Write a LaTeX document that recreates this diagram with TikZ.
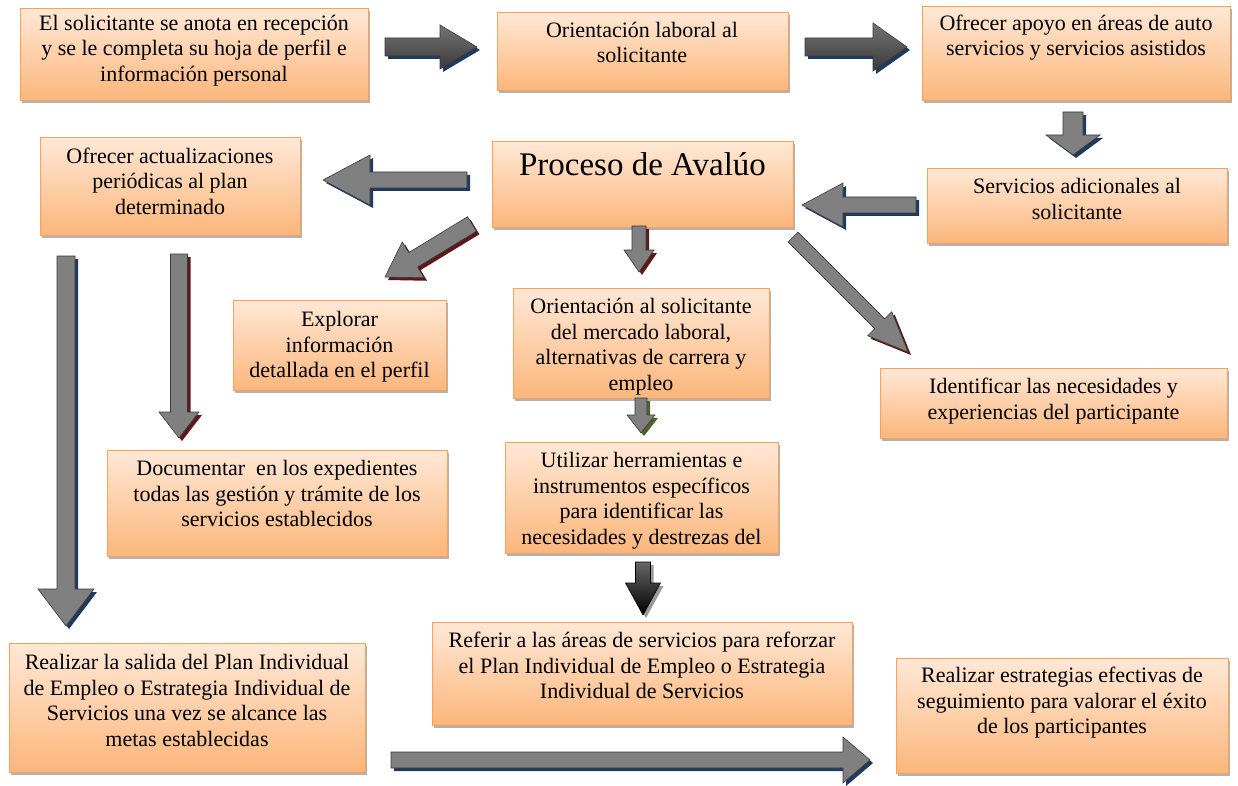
\documentclass[tikz,border=0pt]{standalone}
\usepackage{fontspec}
\setmainfont{Liberation Serif}
\usetikzlibrary{calc,shadows}

\definecolor{boxtop}{HTML}{FFE8D6}
\definecolor{boxbot}{HTML}{FBB67B}
\definecolor{boxline}{HTML}{F7A15A}
\definecolor{arrowfill}{HTML}{808080}
\definecolor{arrowline}{HTML}{3A3A3A}
\definecolor{shblue}{HTML}{1F3A60}
\definecolor{shred}{HTML}{5E1818}
\definecolor{shgreen}{HTML}{4E6128}

\tikzset{
  panel/.style={rectangle, draw=boxline, line width=0.8pt, top color=boxtop,
    bottom color=boxbot, inner sep=0pt,
    drop shadow={shadow xshift=2pt, shadow yshift=-3pt, fill=black, opacity=0.3}},
  paneltext/.style={inner sep=0pt, align=center, anchor=north,
    font=\fontsize{22}{25.8}\selectfont},
  bigtext/.style={inner sep=0pt, anchor=base, font=\fontsize{33}{36}\selectfont},
  flat/.style={fill=arrowfill, draw=arrowline, line width=0.6pt},
  shadedarrow/.style={top color=arrowfill!110!white, bottom color=arrowline,
    draw=arrowline, line width=0.6pt},
  darkarrow/.style={top color=black!60, bottom color=black, draw=black, line width=0.6pt},
  shadowfill/.style={fill=#1, draw=none}
}

% box: name, x1, y1, x2, y2 (pixel frame, y downwards)
\newcommand\panelbox[5]{%
  \node[panel, anchor=north west, minimum width={#4pt-#2pt},
    minimum height={#5pt-#3pt}] (#1) at (#2,#3) {};}
% text of a box: name, x centre, baseline of the first line, text
\newcommand\paneltxt[4]{%
  \node[paneltext] (#1) at (#2,{#3-16}) {\rule{0pt}{16pt}#4};}

% block arrow outline from tail #1 to tip #2 (head base at coordinate hb)
\newcommand\arrowoutline[4]{%
  ($(#1)!#3pt!90:(#2)$) -- ($(hb)!#3pt!-90:(#1)$) -- ($(hb)!#4pt!-90:(#1)$)
  -- (#2) -- ($(hb)!#4pt!90:(#1)$) -- ($(hb)!#3pt!90:(#1)$)
  -- ($(#1)!#3pt!-90:(#2)$) -- cycle}
% tail, tip, half shaft, half head, head length, arrow style, shadow colour
\newcommand\blockarrow[7]{%
  \coordinate (hb) at ($(#2)!#5pt!(#1)$);
  \path[shadowfill=#7, transform canvas={shift={(3pt,-3pt)}}] \arrowoutline{#1}{#2}{#3}{#4};
  \path[#6] \arrowoutline{#1}{#2}{#3}{#4};}

\begin{document}
\begin{tikzpicture}[x=1pt, y=-1pt]
\useasboundingbox (0,0) rectangle (1238,786);

% ---------- boxes ----------
\panelbox{reg}{20}{8}{368}{100}
\paneltxt{regT}{194}{30}{El solicitante se anota en recepción\\y se le completa su hoja de perfil e\\información personal}

\panelbox{ori}{497}{12}{788}{90}
\paneltxt{oriT}{642}{37}{Orientación laboral al\\solicitante}

\panelbox{apo}{922}{6}{1230}{100}
\paneltxt{apoT}{1076}{30}{Ofrecer apoyo en áreas de auto\\servicios y servicios asistidos}

\panelbox{act}{40}{137}{300}{235}
\paneltxt{actT}{170}{163}{Ofrecer actualizaciones\\periódicas al plan\\determinado}

\panelbox{pro}{492}{141}{793}{227}
\node[bigtext] (proT) at (642.5,176) {Proceso de Avalúo};

\panelbox{adi}{927}{168}{1227}{243}
\paneltxt{adiT}{1077}{193}{Servicios adicionales al\\solicitante}

\panelbox{exp}{233}{300}{446}{390}
\paneltxt{expT}{339.5}{326}{Explorar\\información\\detallada en el perfil}

\panelbox{mer}{513}{288}{769}{398}
\begin{scope}
  \clip (mer.south west) rectangle (mer.north east);
  \paneltxt{merT}{641}{313}{Orientación al solicitante\\del mercado laboral,\\alternativas de carrera y\\empleo}
\end{scope}

\panelbox{nec}{880}{368}{1227}{438}
\paneltxt{necT}{1053.5}{393}{Identificar las necesidades y\\experiencias del participante}

\panelbox{doc}{107}{450}{447}{556}
\paneltxt{docT}{277}{475}{Documentar~~en los expedientes\\todas las gestión y trámite de los\\servicios establecidos}

\panelbox{her}{505}{442}{778}{553}
\paneltxt{herT}{641.5}{467}{Utilizar herramientas e\\instrumentos específicos\\para identificar las\\necesidades y destrezas del}

\panelbox{ref}{432}{622}{852}{725}
\paneltxt{refT}{642}{647}{Referir a las áreas de servicios para reforzar\\el Plan Individual de Empleo o Estrategia\\Individual de Servicios}

\panelbox{sal}{9}{643}{365}{772}
\paneltxt{salT}{187}{669}{Realizar la salida del Plan Individual\\de Empleo o Estrategia Individual de\\Servicios una vez se alcance las\\metas establecidas}

\panelbox{seg}{896}{658}{1228}{773}
\paneltxt{segT}{1062}{682}{Realizar estrategias efectivas de\\seguimiento para valorar el éxito\\de los participantes}

% ---------- arrow end points ----------
\coordinate (a1s) at (385,47);   \coordinate (a1e) at (477,47);
\coordinate (a2s) at (805,47);   \coordinate (a2e) at (907,47);
\coordinate (a3s) at (1073,112); \coordinate (a3e) at (1073,155);
\coordinate (a4s) at (916,205);  \coordinate (a4e) at (802,205);
\coordinate (a5s) at (467,180);  \coordinate (a5e) at (323,180);
\coordinate (a6s) at (472,224);  \coordinate (a6e) at (385,277);
\coordinate (a7s) at (639,226);  \coordinate (a7e) at (639,272);
\coordinate (a8s) at (793,237);  \coordinate (a8e) at (908,352);
\coordinate (a9s) at (641,398);  \coordinate (a9e) at (641,433);
\coordinate (a10s) at (643,562); \coordinate (a10e) at (643,615);
\coordinate (a11s) at (66,256);  \coordinate (a11e) at (66,626);
\coordinate (a12s) at (179,254); \coordinate (a12e) at (179,438);
\coordinate (a13s) at (391,760); \coordinate (a13e) at (870,760);

% ---------- block arrows ----------
\blockarrow{a1s}{a1e}{9}{22}{37}{shadedarrow}{shblue}
\blockarrow{a2s}{a2e}{9}{24}{34}{shadedarrow}{shblue}
\blockarrow{a3s}{a3e}{10}{27}{20}{flat}{shblue}
\blockarrow{a4s}{a4e}{8}{22}{41}{flat}{shblue}
\blockarrow{a5s}{a5e}{8}{25}{47}{flat}{shblue}
\blockarrow{a6s}{a6e}{8.5}{21}{33}{flat}{shred}
\blockarrow{a7s}{a7e}{7}{15}{22}{flat}{shred}
\blockarrow{a8s}{a8e}{7}{17}{40}{flat}{shred}
\blockarrow{a9s}{a9e}{6}{14}{18}{flat}{shgreen}
\blockarrow{a10s}{a10e}{7.5}{17.5}{32}{darkarrow}{black!40}
\blockarrow{a11s}{a11e}{9}{28}{37}{flat}{shblue}
\blockarrow{a12s}{a12e}{8.5}{20}{26}{flat}{shred}
\blockarrow{a13s}{a13e}{8}{23}{27}{flat}{shblue}
\end{tikzpicture}
\end{document}
